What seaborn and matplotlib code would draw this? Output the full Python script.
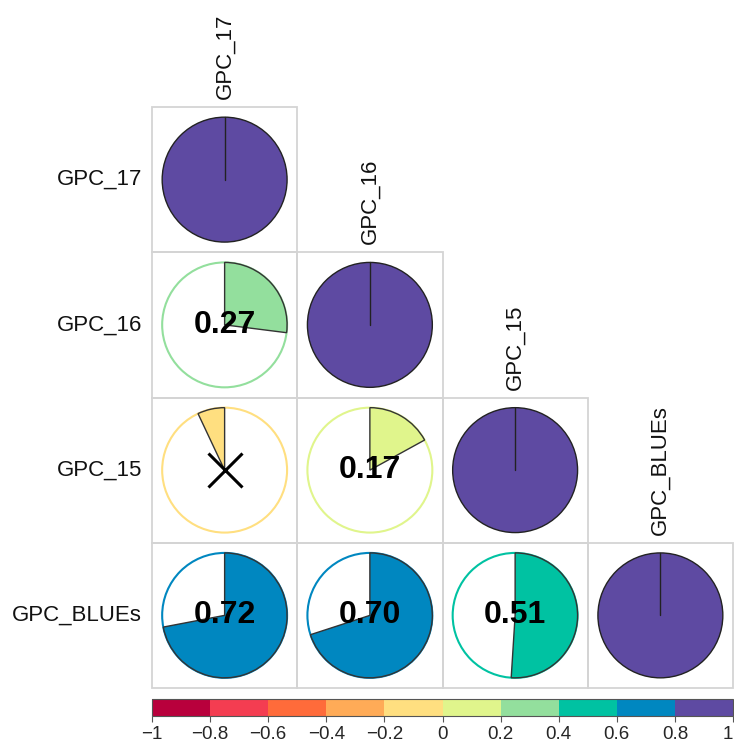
import numpy as np
import pandas as pd
import seaborn as sns
import matplotlib
matplotlib.use("Agg")
import matplotlib.pyplot as plt
from matplotlib.patches import Wedge, Circle, Rectangle
from matplotlib.colors import ListedColormap, BoundaryNorm
from matplotlib.colorbar import ColorbarBase

# Traits and their pairwise correlations (lower triangle, row vs column)
traits = ["GPC_17", "GPC_16", "GPC_15", "GPC_BLUEs"]
corr_rows = [
    [1.00],
    [0.27, 1.00],
    [-0.07, 0.17, 1.00],
    [0.72, 0.70, 0.51, 1.00],
]
# Pairs whose correlation is not significant (crossed out)
insignificant = [(2, 0)]

# Discrete colour scale, 10 bins from -1 to 1
bin_colors = ["#B8003C", "#F43D51", "#FF6B3A", "#FFAB57", "#FFDF80",
              "#E0F58C", "#93DF9D", "#00C2A2", "#0087C0", "#5E4AA2"]
bin_edges = np.linspace(-1, 1, 11)
tick_labels = ["\u22121", "\u22120.8", "\u22120.6", "\u22120.4", "\u22120.2",
               "0", "0.2", "0.4", "0.6", "0.8", "1"]

sns.set_style("white")
plt.rcParams["font.family"] = ["Liberation Sans", "DejaVu Sans"]

n = len(traits)
mat = np.full((n, n), np.nan)
for i, row in enumerate(corr_rows):
    for j, v in enumerate(row):
        mat[i, j] = v
df = pd.DataFrame(mat, index=traits, columns=traits)
mask = np.triu(np.ones((n, n), dtype=bool), k=1)

W, H = 734, 744
fig = plt.figure(figsize=(W / 100, H / 100), dpi=100)
ax = fig.add_axes([152 / W, 1 - 688 / H, 581 / W, 581 / H])

# White background cells for the lower triangle
sns.heatmap(np.zeros_like(mat), mask=mask, cmap=ListedColormap(["white"]),
            cbar=False, linewidths=0, xticklabels=False, yticklabels=False,
            ax=ax)
ax.set_aspect("auto")
ax.set_xlim(0, n)
ax.set_ylim(n, 0)
for s in ax.spines.values():
    s.set_visible(False)

cmap = ListedColormap(bin_colors)
norm = BoundaryNorm(bin_edges, cmap.N)

radius = 0.43
for i in range(n):
    for j in range(i + 1):
        # light grey border around each lower-triangle cell
        ax.add_patch(Rectangle((j, i), 1, 1, facecolor="none",
                               edgecolor="#d4d4d4", lw=1.3, zorder=1,
                               clip_on=False))
        r = df.iloc[i, j]
        col = cmap(norm(r))
        cx, cy = j + 0.5, i + 0.5
        # y axis is inverted: data angle 270 points up on screen
        if abs(r) >= 1:
            ax.add_patch(Circle((cx, cy), radius, facecolor=col,
                                edgecolor="#222222", lw=1.0, zorder=3))
            ax.plot([cx, cx], [cy, cy - radius], color="#222222", lw=1.0, zorder=4)
        else:
            ax.add_patch(Circle((cx, cy), radius, facecolor="white",
                                edgecolor=col, lw=1.5, zorder=2))
            span = 360 * abs(r)
            if r >= 0:
                t1, t2 = 270, 270 + span
            else:
                t1, t2 = 270 - span, 270
            ax.add_patch(Wedge((cx, cy), radius, t1, t2, facecolor=col,
                               edgecolor="#333333", lw=1.0, zorder=3))
            if (i, j) in insignificant:
                ax.plot(cx, cy, marker="x", markersize=24, mew=2.2,
                        color="black", zorder=5)
            else:
                ax.text(cx, cy, f"{r:.2f}", ha="center", va="center",
                        fontsize=23, fontweight="bold", color="black", zorder=6)

# Row labels on the left, column labels above the diagonal
for i, name in enumerate(traits):
    ax.text(-0.07, i + 0.5, name, ha="right", va="center", fontsize=16,
            color="#111111")
    ax.text(i + 0.5, i - 0.055, name, ha="center", va="bottom", rotation=90,
            fontsize=16, color="#111111")

# Discrete colour legend along the bottom
cax = fig.add_axes([152 / W, 1 - 716 / H, 581 / W, 17 / H])
cb = ColorbarBase(cax, cmap=cmap, norm=norm, orientation="horizontal",
                  boundaries=bin_edges, ticks=bin_edges)
cb.set_ticklabels(tick_labels)
cb.outline.set_edgecolor("#555555")
cb.outline.set_linewidth(0.8)
cax.tick_params(axis="x", length=4, width=0.8, color="#555555",
                labelsize=13.5, pad=3)
# keep the last label inside the figure edge
cax.get_xticklabels()[-1].set_horizontalalignment("right")

fig.savefig("out.png", dpi=100)
